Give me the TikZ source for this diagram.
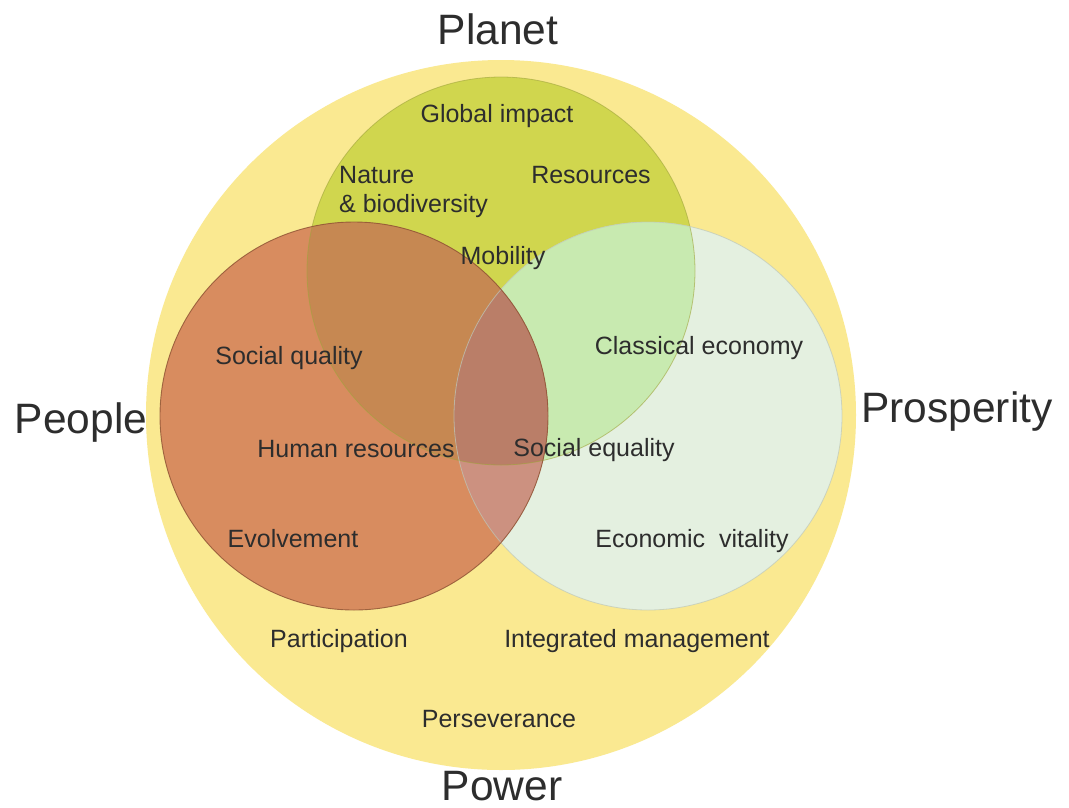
\documentclass[tikz,border=0pt]{standalone}
\usepackage{fontspec}
\setmainfont{Liberation Sans}
\definecolor{yel}{RGB}{250,233,145}
\definecolor{grn}{RGB}{208,214,78}
\definecolor{lgt}{RGB}{228,240,224}
\definecolor{red}{RGB}{216,140,95}
\definecolor{gl}{RGB}{200,234,176}
\definecolor{rg}{RGB}{198,136,82}
\definecolor{rl}{RGB}{204,145,128}
\definecolor{rgl}{RGB}{186,126,104}
\definecolor{txt}{RGB}{45,45,45}
\definecolor{redline}{RGB}{140,80,50}
\definecolor{grnline}{RGB}{160,165,60}
\definecolor{lgtline}{RGB}{190,200,185}
\begin{document}
\begin{tikzpicture}[x=1pt,y=-1pt,
  lbl/.style={font=\fontsize{25}{29}\selectfont, text=txt, inner sep=0pt, anchor=base},
  big/.style={font=\fontsize{42.5}{48}\selectfont, text=txt, inner sep=0pt, anchor=base}]
\useasboundingbox (0,0) rectangle (1069,807);
\fill[white] (0,0) rectangle (1069,807);
% outer power circle
\fill[yel] (501,415) circle[radius=355pt];
% three circles
\fill[grn] (501,271) circle[radius=194pt];
\fill[lgt] (648,416) circle[radius=194pt];
\fill[red] (354,416) circle[radius=194pt];
% intersections
\begin{scope}
  \clip (501,271) circle[radius=194pt];
  \fill[gl] (648,416) circle[radius=194pt];
\end{scope}
\begin{scope}
  \clip (354,416) circle[radius=194pt];
  \fill[rg] (501,271) circle[radius=194pt];
  \fill[rl] (648,416) circle[radius=194pt];
\end{scope}
\begin{scope}
  \clip (354,416) circle[radius=194pt];
  \clip (501,271) circle[radius=194pt];
  \fill[rgl] (648,416) circle[radius=194pt];
\end{scope}
% outlines
\draw[grnline, line width=0.8pt, draw opacity=0.6] (501,271) circle[radius=194pt];
\draw[lgtline, line width=0.8pt, draw opacity=0.7] (648,416) circle[radius=194pt];
\draw[redline, line width=0.9pt, draw opacity=0.8] (354,416) circle[radius=194pt];
% big labels
\node[big] (planet) at (498,44) {Planet};
\node[big] (people) at (81,433) {People};
\node[big] (prosperity) at (957,422) {Prosperity};
\node[big] (power) at (502,800) {Power};
% inner labels
\node[lbl] (global) at (497,122) {Global impact};
\node[lbl, anchor=base west] (nature) at (339,183) {Nature};
\node[lbl, anchor=base west] (biodiv) at (339,212) {\& biodiversity};
\node[lbl] (resources) at (591,183) {Resources};
\node[lbl] (mobility) at (503,264) {Mobility};
\node[lbl] (socq) at (289,364) {Social quality};
\node[lbl] (classical) at (699,354) {Classical economy};
\node[lbl] (human) at (356,457) {Human resources};
\node[lbl] (soceq) at (594,456) {Social equality};
\node[lbl] (evolve) at (293,547) {Evolvement};
\node[lbl] (econ) at (692,547) {Economic\ \ vitality};
\node[lbl] (particip) at (339,647) {Participation};
\node[lbl] (integr) at (637,647) {Integrated management};
\node[lbl] (persev) at (499,727) {Perseverance};
\end{tikzpicture}
\end{document}
